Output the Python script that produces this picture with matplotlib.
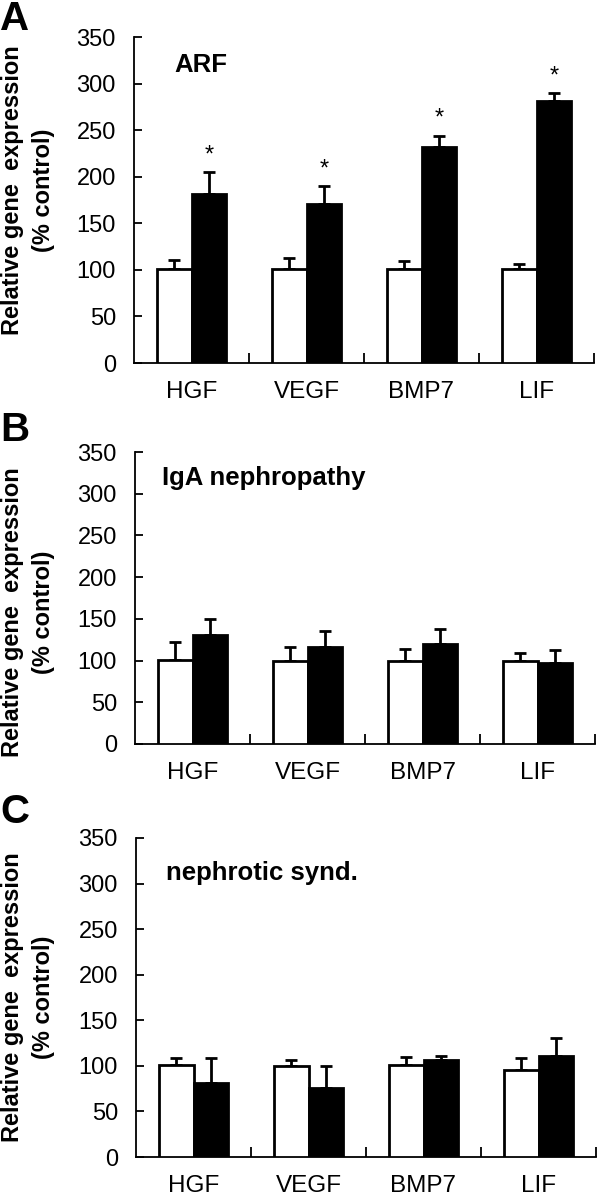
import numpy as np
import matplotlib.pyplot as plt

plt.rcParams['font.family'] = ['Liberation Sans', 'DejaVu Sans']

genes = ['HGF', 'VEGF', 'BMP7', 'LIF']

# ARF
arf_ctrl = [101, 101, 101, 101]
arf_ctrl_err = [10, 12, 9, 5]
arf_pat = [181, 171, 232, 281]
arf_pat_err = [24, 19, 12, 9]
arf_sig = [True, True, True, True]

# IgA nephropathy
iga_ctrl = [101, 100, 100, 99]
iga_ctrl_err = [21, 16, 14, 10]
iga_pat = [131, 116, 120, 97]
iga_pat_err = [19, 20, 18, 16]
iga_sig = [False, False, False, False]

# nephrotic syndrome
ns_ctrl = [101, 100, 101, 96]
ns_ctrl_err = [8, 6, 9, 13]
ns_pat = [81, 76, 106, 111]
ns_pat_err = [28, 24, 5, 20]
ns_sig = [False, False, False, False]

W, H = 601, 1199
fig = plt.figure(figsize=(W / 100, H / 100), dpi=100)


def px(x, y):
    return x / W, 1 - y / H


def panel(rect, letter, letter_y, label_y, title, title_xy,
          ctrl, ctrl_err, pat, pat_err, sig):
    left, top, right, bottom = rect
    ax = fig.add_axes([left / W, 1 - bottom / H, (right - left) / W, (bottom - top) / H])
    x = np.arange(len(genes))
    w = 0.3
    zeros = np.zeros(len(genes))
    ax.bar(x - w / 2, ctrl, w, color='white', edgecolor='black', linewidth=2, zorder=3)
    ax.bar(x + w / 2, pat, w, color='black', edgecolor='black', linewidth=2, zorder=3)
    ax.errorbar(x - w / 2, ctrl, yerr=[zeros, ctrl_err], fmt='none', ecolor='black',
                elinewidth=2, capsize=4.5, capthick=2, zorder=2)
    ax.errorbar(x + w / 2, pat, yerr=[zeros, pat_err], fmt='none', ecolor='black',
                elinewidth=2, capsize=4.5, capthick=2, zorder=2)
    for i in range(len(genes)):
        if sig[i]:
            ax.text(x[i] + w / 2, pat[i] + pat_err[i] + 18, '*', ha='center', va='center',
                    fontsize=17)
    ax.set_xlim(-0.5, 3.5)
    ax.set_ylim(0, 350)
    ax.set_yticks(np.arange(0, 351, 50))
    ax.set_xticks([])
    ax.set_xticks([0.5, 1.5, 2.5, 3.5], minor=True)
    ax.tick_params(axis='x', which='minor', direction='in', length=7, width=1.3)
    ax.tick_params(axis='y', direction='in', length=6, width=1.3, labelsize=17, pad=13)
    for i, g in enumerate(genes):
        ax.annotate(g, (i, 0), xycoords=('data', 'axes fraction'), xytext=(0, -13),
                    textcoords='offset points', ha='center', va='top', fontsize=17.5)
    ax.spines['top'].set_visible(False)
    ax.spines['right'].set_visible(False)
    ax.spines['left'].set_linewidth(1.3)
    ax.spines['bottom'].set_linewidth(1.3)
    fig.text(*px(28, label_y), 'Relative gene  expression\n(% control)', rotation=90,
             fontsize=17, fontweight='bold', ha='center', va='center',
             multialignment='center', linespacing=1.45)
    fig.text(*px(*title_xy), title, fontsize=18.5, fontweight='bold',
             ha='left', va='center')
    fig.text(*px(0, letter_y), letter, fontsize=29, fontweight='bold',
             ha='left', va='center')
    return ax


panel((134, 37, 594, 363), 'A', 19, 190, 'ARF', (174, 65),
      arf_ctrl, arf_ctrl_err, arf_pat, arf_pat_err, arf_sig)
panel((135, 452, 595, 744), 'B', 430, 612, 'IgA nephropathy', (162, 478),
      iga_ctrl, iga_ctrl_err, iga_pat, iga_pat_err, iga_sig)
panel((136, 838, 596, 1157), 'C', 812, 997, 'nephrotic synd.', (166, 873),
      ns_ctrl, ns_ctrl_err, ns_pat, ns_pat_err, ns_sig)

plt.savefig('out.png', dpi=100)
